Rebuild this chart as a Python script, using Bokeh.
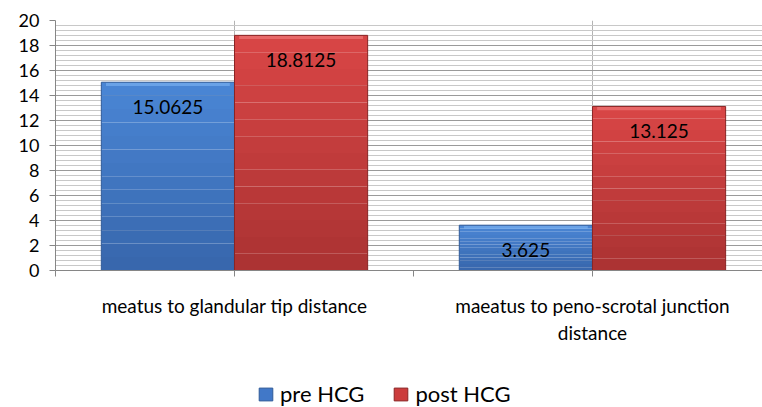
from bokeh.plotting import figure
from bokeh.models import FixedTicker, Legend, LegendItem, ColumnDataSource, Range1d
from bokeh.layouts import column
from bokeh.core.properties import value
from bokeh.embed import file_html
from bokeh.resources import INLINE

categories = ["meatus to glandular tip distance", "maeatus to peno-scrotal junction\ndistance"]
series_names = ["pre HCG", "post HCG"]
pre_hcg = [15.0625, 3.625]
post_hcg = [18.8125, 13.125]
y_ticks = [0, 2, 4, 6, 8, 10, 12, 14, 16, 18, 20]

FONT = "Lato"
BAR_W = 0.372
centers = [0.5, 1.5]

p = figure(width=762, height=370, output_backend="svg", toolbar_location=None,
           x_range=Range1d(0, 1.975), y_range=Range1d(0, 20),
           min_border_left=55, min_border_top=20, min_border_right=0, min_border_bottom=100)
p.outline_line_color = None
p.background_fill_color = "white"
p.border_fill_color = "white"

def lerp(c1, c2, t):
    a = [int(c1[i:i + 2], 16) for i in (1, 3, 5)]
    b = [int(c2[i:i + 2], 16) for i in (1, 3, 5)]
    return "#%02x%02x%02x" % tuple(round(a[k] + (b[k] - a[k]) * t) for k in range(3))

styles = [
    dict(vals=pre_hcg, off=-BAR_W / 2, top="#4a86d6", bot="#3766ab", bevel="#78aef0", edge="#2f5a98"),
    dict(vals=post_hcg, off=BAR_W / 2, top="#d94646", bot="#aa3232", bevel="#f07878", edge="#8a2424"),
]

N = 14
for s in styles:
    xs = [c + s["off"] for c in centers]
    for i in range(N):
        bots = [v * i / N for v in s["vals"]]
        tops = [v * (i + 1) / N for v in s["vals"]]
        col = lerp(s["bot"], s["top"], (i + 0.5) / N)
        p.vbar(x=xs, width=BAR_W, bottom=bots, top=tops, fill_color=col, line_color=None)
    p.vbar(x=xs, width=BAR_W * 0.93, bottom=[v - 0.3 for v in s["vals"]], top=[v - 0.05 for v in s["vals"]],
           fill_color=s["bevel"], fill_alpha=0.7, line_color=None)
    p.vbar(x=xs, width=BAR_W, bottom=0, top=s["vals"], fill_color=None, line_color=s["edge"], line_width=1)

# data labels
lbl_x = [c - BAR_W / 2 for c in centers] + [c + BAR_W / 2 for c in centers]
lbl_y = pre_hcg + post_hcg
lbl_t = [("%g" % v) for v in lbl_y]
src = ColumnDataSource(dict(x=lbl_x, y=lbl_y, t=lbl_t))
p.text(x="x", y="y", text="t", source=src, y_offset=25, text_align="center", text_baseline="middle",
       text_font=value(FONT), text_font_size="19px", text_color="black")

# y axis
p.yaxis.ticker = FixedTicker(ticks=y_ticks, minor_ticks=[i * 0.4 for i in range(51)])
p.yaxis.axis_line_color = "#868686"
p.yaxis.major_tick_line_color = "#868686"
p.yaxis.major_tick_out = 6
p.yaxis.major_tick_in = 0
p.yaxis.minor_tick_line_color = None
p.yaxis.major_label_text_font = FONT
p.yaxis.major_label_text_font_size = "18px"
p.yaxis.major_label_text_color = "black"
p.yaxis.major_label_standoff = 10

p.ygrid.grid_line_color = "#9a9a9a"
p.ygrid.minor_grid_line_color = "#c8c8c8"

# x axis
p.xaxis.ticker = FixedTicker(ticks=[0, 0.5, 1, 1.5])
p.xaxis.major_label_overrides = {0: "", 0.5: categories[0], 1: "", 1.5: categories[1]}
p.xaxis.axis_line_color = "#868686"
p.xaxis.major_tick_line_color = "#868686"
p.xaxis.major_tick_out = 6
p.xaxis.major_tick_in = 0
p.xaxis.minor_tick_line_color = None
p.xaxis.major_label_text_font = FONT
p.xaxis.major_label_text_font_size = "19px"
p.xaxis.major_label_text_color = "black"
p.xaxis.major_label_standoff = 17

p.xgrid.ticker = FixedTicker(ticks=[0.5, 1.5])
p.xgrid.grid_line_color = "#b4b4b4"

# legend strip below the chart
lf = figure(width=762, height=37, output_backend="svg", toolbar_location=None,
            x_range=Range1d(0, 1), y_range=Range1d(0, 1), x_axis_type=None, y_axis_type=None,
            min_border_left=55, min_border_right=0, min_border_top=0, min_border_bottom=0)
lf.outline_line_color = None
lf.background_fill_color = "white"
lf.border_fill_color = "white"
# proxy glyphs kept fully outside the visible range; only their legend swatches show
pre_proxy = lf.vbar(x=[-10], width=0.1, bottom=[-10], top=[-9], fill_color="#4178c8", line_color="#2f5a98")
post_proxy = lf.vbar(x=[-10], width=0.1, bottom=[-10], top=[-9], fill_color="#cc3c3c", line_color="#8a2424")

legend = Legend(items=[LegendItem(label=series_names[0], renderers=[pre_proxy]),
                       LegendItem(label=series_names[1], renderers=[post_proxy])],
                orientation="horizontal", location=(202, 0))
legend.border_line_color = None
legend.background_fill_alpha = 0
legend.label_text_font = FONT
legend.label_text_font_size = "22px"
legend.label_text_color = "black"
legend.glyph_width = 17
legend.glyph_height = 16
legend.label_standoff = 6
legend.spacing = 28
legend.padding = 0
legend.margin = 0
lf.add_layout(legend, "center")

layout = column(p, lf, spacing=0)
open("out.html", "w").write(file_html(layout, INLINE))
